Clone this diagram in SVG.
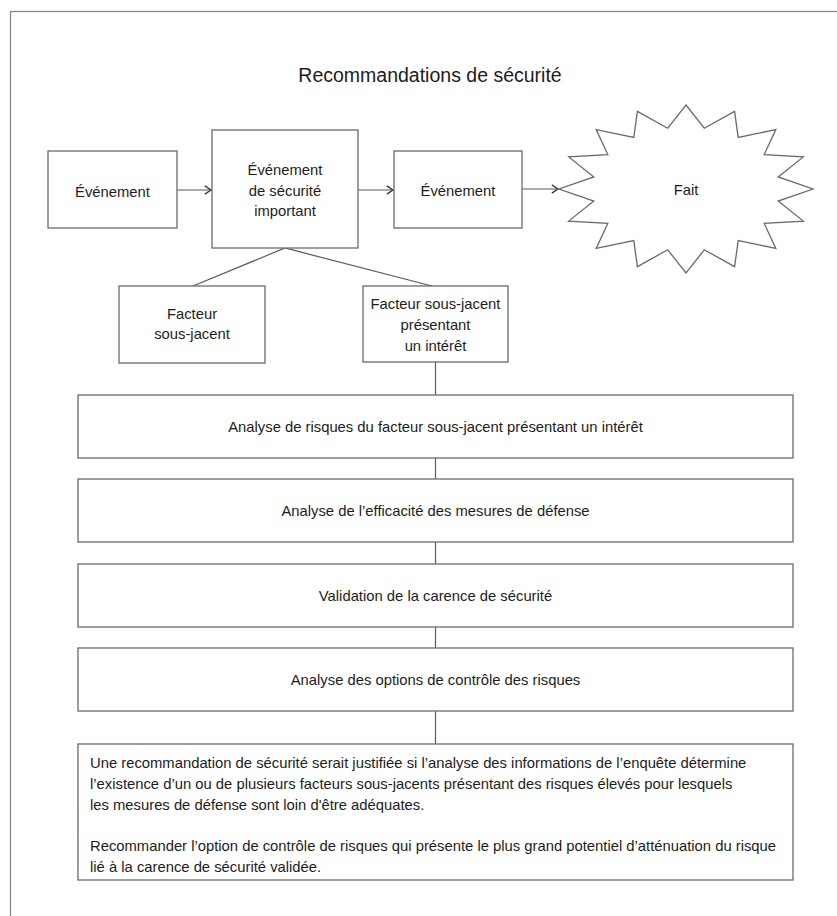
<svg xmlns="http://www.w3.org/2000/svg" width="837" height="916" viewBox="0 0 837 916">
  <defs>
    <style>
      .box { fill: #ffffff; stroke: #6a6a6a; stroke-width: 1.3; }
      .wire { fill: none; stroke: #5a5a5a; stroke-width: 1.2; }
      .frame { fill: none; stroke: #8a8a8a; stroke-width: 1.3; }
      text { font-family: "Liberation Sans", Arial, sans-serif; font-size: 14.8px; fill: #1c1c1c; }
      .mid { text-anchor: middle; }
      .title { font-size: 19.5px; }
    </style>
    <marker id="chevron" markerUnits="userSpaceOnUse" markerWidth="10" markerHeight="12" refX="7" refY="5" orient="auto">
      <path d="M0.8,0.8 L7,5 L0.8,9.2" fill="none" stroke="#3a3a3a" stroke-width="1.4"/>
    </marker>
  </defs>

  <rect width="837" height="916" fill="#ffffff"/>
  <!-- outer frame -->
  <rect class="frame" x="10.5" y="11.5" width="840" height="920"/>

  <text class="title mid" x="430" y="82">Recommandations de sécurité</text>

  <!-- connectors -->
  <g id="connectors">
    <line class="wire" x1="177" y1="190" x2="211" y2="190" marker-end="url(#chevron)"/>
    <line class="wire" x1="358" y1="190" x2="393" y2="190" marker-end="url(#chevron)"/>
    <line class="wire" x1="522" y1="189" x2="558" y2="189" marker-end="url(#chevron)"/>
    <polyline class="wire" points="193,286 285,248 432,286"/>
    <line class="wire" x1="435.5" y1="362" x2="435.5" y2="395"/>
    <line class="wire" x1="435.5" y1="458" x2="435.5" y2="479"/>
    <line class="wire" x1="435.5" y1="542" x2="435.5" y2="564"/>
    <line class="wire" x1="435.5" y1="627" x2="435.5" y2="648"/>
    <line class="wire" x1="435.5" y1="711" x2="435.5" y2="744"/>
  </g>

  <g id="event-1">
    <rect class="box" x="48" y="151" width="129" height="77"/>
    <text class="mid" x="112.5" y="196.5">Événement</text>
  </g>

  <g id="significant-event">
    <rect class="box" x="212" y="130" width="146" height="118"/>
    <text class="mid" x="285" y="175">Événement</text>
    <text class="mid" x="285" y="195.5">de sécurité</text>
    <text class="mid" x="285" y="216">important</text>
  </g>

  <g id="event-2">
    <rect class="box" x="394" y="151" width="128" height="77"/>
    <text class="mid" x="458" y="196">Événement</text>
  </g>

  <g id="fact">
    <polygon class="box" points="686,105 704.3,128.2 734.6,111.4 738.2,137.4 775.8,129.6 764.2,154.6 803.3,156.9 778.2,176.9 813,189 778.2,201.1 803.3,221.1 764.2,223.4 775.8,248.4 738.2,240.6 734.6,266.6 704.3,249.8 686,273 667.7,249.8 637.4,266.6 633.8,240.6 596.2,248.4 607.8,223.4 568.7,221.1 593.8,201.1 559,189 593.8,176.9 568.7,156.9 607.8,154.6 596.2,129.6 633.8,137.4 637.4,111.4 667.7,128.2"/>
    <text class="mid" x="686" y="195">Fait</text>
  </g>

  <g id="underlying-factor">
    <rect class="box" x="119" y="286" width="146" height="77"/>
    <text class="mid" x="192" y="319">Facteur</text>
    <text class="mid" x="192" y="339">sous-jacent</text>
  </g>

  <g id="factor-of-interest">
    <rect class="box" x="363" y="286" width="145" height="76"/>
    <text class="mid" x="435.5" y="309">Facteur sous-jacent</text>
    <text class="mid" x="435.5" y="330">présentant</text>
    <text class="mid" x="435.5" y="351">un intérêt</text>
  </g>

  <g id="risk-analysis">
    <rect class="box" x="78" y="395" width="715" height="63"/>
    <text class="mid" x="435.5" y="431.5">Analyse de risques du facteur sous-jacent présentant un intérêt</text>
  </g>

  <g id="defence-analysis">
    <rect class="box" x="78" y="479" width="715" height="63"/>
    <text class="mid" x="435.5" y="515.5">Analyse de l’efficacité des mesures de défense</text>
  </g>

  <g id="deficiency-validation">
    <rect class="box" x="78" y="564" width="715" height="63"/>
    <text class="mid" x="435.5" y="600.5">Validation de la carence de sécurité</text>
  </g>

  <g id="control-options">
    <rect class="box" x="78" y="648" width="715" height="63"/>
    <text class="mid" x="435.5" y="684.5">Analyse des options de contrôle des risques</text>
  </g>

  <g id="recommendation">
    <rect class="box" x="78" y="744" width="715" height="136"/>
    <text x="90" y="768">Une recommandation de sécurité serait justifiée si l’analyse des informations de l’enquête détermine</text>
    <text x="90" y="788.8">l’existence d’un ou de plusieurs facteurs sous-jacents présentant des risques élevés pour lesquels</text>
    <text x="90" y="809.6">les mesures de défense sont loin d'être adéquates.</text>
    <text x="90" y="851.2">Recommander l’option de contrôle de risques qui présente le plus grand potentiel d’atténuation du risque</text>
    <text x="90" y="872">lié à la carence de sécurité validée.</text>
  </g>
</svg>
